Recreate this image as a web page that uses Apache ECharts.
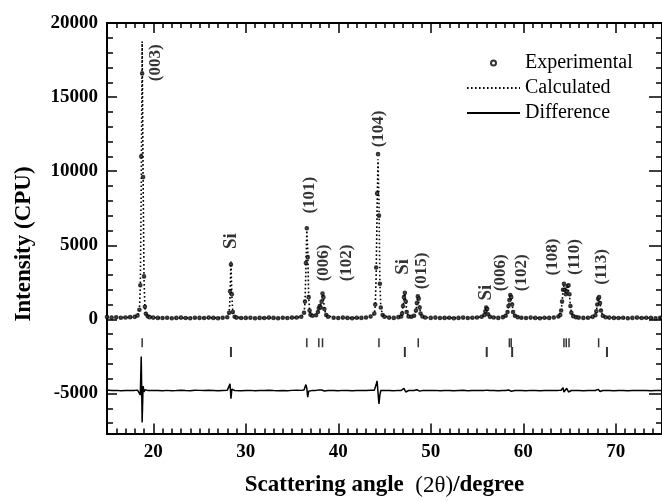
<!DOCTYPE html>
<html>
<head>
<meta charset="utf-8">
<script src="https://cdn.jsdelivr.net/npm/echarts@6/dist/echarts.min.js"></script>
<style>
  html, body { margin: 0; padding: 0; background: #fff; }
  #chart { width: 662px; height: 502px; }
</style>
</head>
<body>
<div id="chart"></div>
<script>
// XRD pattern (2theta in degrees, counts)
const twoTheta = [
  15.0, 15.5, 16.0, 16.5, 17.0, 17.5, 18.0,
  18.3, 18.5, 18.6, 18.7, 18.8, 18.9, 19.0, 19.1, 19.2, 19.4,
  19.6, 20.0, 20.5, 21.0, 21.5, 22.0, 22.5, 23.0, 23.5, 24.0, 24.5, 25.0, 25.5, 26.0, 26.5, 27.0, 27.5, 28.0,
  28.2, 28.3, 28.4, 28.5, 28.6, 28.8,
  29.0, 29.5, 30.0, 30.5, 31.0, 31.5, 32.0, 32.5, 33.0, 33.5, 34.0, 34.5, 35.0, 35.5, 36.0,
  36.3, 36.4, 36.5, 36.6, 36.7, 36.8, 36.9, 37.0, 37.2,
  37.6, 37.8, 37.9, 38.0, 38.1, 38.2, 38.3, 38.4, 38.5, 38.7, 38.9,
  39.5, 40.0, 40.5, 41.0, 41.5, 42.0, 42.5, 43.0, 43.5,
  43.9, 44.0, 44.1, 44.2, 44.3, 44.4, 44.5, 44.6, 44.8, 45.0,
  45.5, 46.0, 46.5,
  46.8, 46.9, 47.0, 47.1, 47.2, 47.3, 47.4, 47.6,
  47.9,
  48.2, 48.4, 48.5, 48.6, 48.7, 48.8, 48.9, 49.1, 49.4,
  50.0, 50.5, 51.0, 51.5, 52.0, 52.5, 53.0, 53.5, 54.0, 54.5, 55.0, 55.5,
  55.8, 55.9, 56.0, 56.1, 56.2, 56.4,
  56.8, 57.3, 57.8,
  58.1, 58.3, 58.4, 58.5, 58.6, 58.7, 58.8, 58.9, 59.1, 59.4,
  59.8, 60.3, 60.8, 61.3, 61.8, 62.3, 62.8, 63.3, 63.8,
  64.0, 64.1, 64.2, 64.3, 64.4, 64.5, 64.6, 64.7, 64.8, 64.9, 65.0, 65.1, 65.2, 65.4, 65.7,
  66.0, 66.5, 67.0, 67.5,
  67.8, 67.9, 68.0, 68.1, 68.2, 68.3, 68.4, 68.6, 68.9,
  69.3, 69.8, 70.3, 70.8, 71.3, 71.8, 72.3, 72.8, 73.3, 73.8, 74.3, 74.8, 75.0
];
const obsCounts = [
  160, 120, 140, 110, 130, 150, 170,
  260, 650, 2300, 11000, 16600, 9600, 2900, 850, 380, 210,
  150, 120, 100, 90, 110, 80, 100, 120, 90, 80, 110, 100, 90, 120, 100, 80, 110, 140,
  450, 1900, 3700, 1700, 500, 180,
  120, 90, 100, 110, 80, 100, 90, 120, 100, 80, 110, 90, 120, 130, 180,
  450, 1200, 3800, 6150, 4200, 1500, 600, 320, 250,
  280, 500, 750, 900, 800, 1200, 1750, 1500, 700, 300, 180,
  110, 90, 120, 100, 80, 110, 100, 130, 190,
  400, 1000, 3500, 8500, 11150, 7000, 2400, 800, 300, 180,
  120, 100, 150,
  200, 400, 900, 1500, 1800, 1200, 500, 200,
  180,
  250, 600, 1100, 1550, 1400, 800, 400, 200, 130,
  100, 120, 90, 100, 110, 80, 100, 120, 90, 110, 130, 180,
  300, 550, 800, 700, 350, 170,
  130, 100, 150,
  250, 500, 900, 1300, 1650, 1500, 1000, 500, 250, 150,
  110, 90, 120, 100, 80, 110, 100, 130, 200,
  300, 600, 1200, 2000, 2400, 2000, 1700, 1900, 2250, 2300, 1700, 900, 450, 220, 150,
  120, 100, 110, 170,
  280, 550, 1000, 1400, 1500, 1100, 600, 250, 140,
  120, 100, 90, 110, 80, 100, 120, 90, 110, 100, 80, 110, 100
];
const calcCounts = [
  130, 125, 125, 125, 130, 135, 150,
  240, 600, 2100, 8700, 18750, 9800, 2800, 800, 360, 200,
  140, 120, 105, 100, 100, 95, 95, 95, 95, 90, 90, 90, 95, 100, 100, 100, 110, 130,
  420, 1500, 3900, 1600, 470, 170,
  110, 100, 95, 95, 95, 95, 95, 95, 95, 100, 100, 105, 115, 125, 170,
  420, 1100, 3300, 6000, 4700, 1600, 620, 330, 240,
  270, 480, 720, 880, 820, 1250, 1700, 1450, 720, 290, 170,
  120, 105, 100, 100, 100, 100, 105, 120, 170,
  380, 900, 3000, 7500, 10800, 8000, 2600, 780, 290, 170,
  120, 110, 140,
  190, 380, 850, 1450, 1750, 1250, 520, 200,
  170,
  240, 580, 1050, 1500, 1450, 820, 380, 200, 130,
  115, 110, 105, 100, 100, 100, 100, 100, 105, 110, 125, 170,
  280, 520, 780, 720, 360, 160,
  130, 115, 140,
  240, 480, 850, 1250, 1600, 1550, 1050, 520, 260, 150,
  120, 110, 105, 100, 100, 100, 110, 130, 190,
  290, 570, 1150, 1900, 2300, 2050, 1750, 1950, 2200, 2200, 1650, 900, 460, 230, 150,
  130, 110, 115, 160,
  270, 520, 950, 1350, 1450, 1150, 620, 260, 140,
  115, 110, 105, 100, 100, 100, 100, 100, 100, 100, 100, 100, 100
];
// difference curve, drawn offset by about -4800
const diffCounts = [
  -4770, -4800, -4790, -4810, -4800, -4790, -4790,
  -4780, -4850, -5100, -2500, -6950, -4500, -4900, -4750, -4800, -4790,
  -4790, -4800, -4800, -4810, -4790, -4815, -4800, -4780, -4805, -4810, -4780, -4790, -4805, -4780, -4800, -4820, -4800, -4790,
  -4750, -4350, -5350, -4700, -4780, -4800,
  -4795, -4810, -4800, -4790, -4810, -4800, -4805, -4780, -4800, -4815, -4795, -4810, -4790, -4780, -4790,
  -4770, -4700, -4400, -4650, -5250, -4850, -4800, -4800, -4790,
  -4790, -4780, -4760, -4730, -4800, -4760, -4700, -4750, -4830, -4800, -4800,
  -4800, -4810, -4790, -4800, -4815, -4795, -4800, -4790, -4785,
  -4780, -4700, -4400, -4150, -4950, -5700, -5100, -4800, -4800, -4800,
  -4800, -4810, -4790,
  -4800, -4790, -4750, -4650, -4560, -4900, -4830, -4800,
  -4800,
  -4800, -4780, -4750, -4700, -4800, -4840, -4800, -4800, -4800,
  -4805, -4790, -4810, -4800, -4795, -4815, -4800, -4785, -4810, -4795, -4790, -4790,
  -4790, -4760, -4700, -4780, -4810, -4800,
  -4800, -4810, -4795,
  -4800, -4790, -4760, -4700, -4650, -4850, -4900, -4820, -4800, -4800,
  -4800, -4810, -4790, -4800, -4815, -4795, -4800, -4790, -4790,
  -4800, -4780, -4700, -4600, -4900, -5000, -4780, -4650, -4600, -4900, -5000, -4800, -4800, -4800, -4800,
  -4800, -4810, -4795, -4800,
  -4800, -4790, -4760, -4720, -4850, -4870, -4820, -4800, -4800,
  -4800, -4810, -4795, -4800, -4815, -4800, -4790, -4805, -4800, -4810, -4795, -4800, -4800
];

// Bragg reflection positions (2theta)
const phaseMarks = [18.8, 36.6, 37.9, 38.3, 44.4, 48.65, 58.5, 58.7, 64.4, 64.65, 64.95, 68.15];
const siMarks = [28.4, 47.2, 56.05, 58.8, 69.05];
const phaseMarkLevel = -1580;
const siMarkLevel = -2200;

// peak annotations and where they sit (2theta, counts)
const peakLabels = ['(003)', 'Si', '(101)', '(006)', '(102)', '(104)', 'Si', '(015)', 'Si', '(006)', '(102)', '(108)', '(110)', '(113)'];
const labelAngle = [20.3, 28.4, 36.95, 38.37, 40.85, 44.36, 46.99, 49.01, 55.93, 57.52, 59.82, 63.19, 65.5, 68.51];
const labelCounts = [17320, 5280, 8380, 3810, 3810, 12850, 3540, 3270, 1810, 3140, 3140, 4210, 4210, 3540];

const xMajor = [20, 30, 40, 50, 60, 70];
const yMajor = [-5000, 0, 5000, 10000, 15000, 20000];
const xMinor = [];
for (let v = 16; v <= 74; v++) xMinor.push(v);
const yMinor = [];
for (let v = -7000; v <= 19000; v += 1000) yMinor.push(v);

const serif = 'Liberation Serif';
const black = '#000';

function xAxisDef(position, ticks, len, withLabels) {
  return {
    type: 'value', min: 15, max: 75, position: position,
    axisLine: { show: true, onZero: false, lineStyle: { color: black, width: 2 } },
    axisTick: { show: true, inside: true, length: len, customValues: ticks, lineStyle: { color: black, width: 1.5 } },
    axisLabel: withLabels ? {
      show: true, customValues: xMajor, margin: 9, formatter: v => String(v),
      fontFamily: serif, fontWeight: 'bold', fontSize: 19, color: black
    } : { show: false },
    splitLine: { show: false }
  };
}
function yAxisDef(position, ticks, len, withLabels) {
  return {
    type: 'value', min: -7700, max: 20000, position: position,
    axisLine: { show: true, onZero: false, lineStyle: { color: black, width: 2 } },
    axisTick: { show: true, inside: true, length: len, customValues: ticks, lineStyle: { color: black, width: 1.5 } },
    axisLabel: withLabels ? {
      show: true, customValues: yMajor, margin: 9, formatter: v => String(v),
      fontFamily: serif, fontWeight: 'bold', fontSize: 19, color: black
    } : { show: false },
    splitLine: { show: false }
  };
}

const xMain = xAxisDef('bottom', xMajor, 10, true);
xMain.name = '{b|Scattering angle  }{r|(2\u03b8)}{b|/degree}';
xMain.nameLocation = 'middle';
xMain.nameGap = 40;
xMain.nameTextStyle = {
  rich: {
    b: { fontFamily: serif, fontWeight: 'bold', fontSize: 23, color: black, lineHeight: 24 },
    r: { fontFamily: serif, fontWeight: 'normal', fontSize: 23, color: black, lineHeight: 24 }
  }
};

const chart = echarts.init(document.getElementById('chart'));
chart.setOption({
  animation: false,
  backgroundColor: '#fff',
  grid: { left: 107, right: -9, top: 23, bottom: 65, containLabel: false },
  xAxis: [
    xMain,
    xAxisDef('bottom', xMinor, 5, false),
    xAxisDef('top', xMajor, 10, false),
    xAxisDef('top', xMinor, 5, false)
  ],
  yAxis: [
    yAxisDef('left', yMajor, 10, true),
    yAxisDef('left', yMinor, 6, false),
    yAxisDef('right', yMajor, 13, false),
    yAxisDef('right', yMinor, 6, false)
  ],
  legend: {
    orient: 'vertical', left: 466, top: 53, padding: 0,
    itemGap: 5, itemWidth: 53, itemHeight: 5,
    textStyle: { fontFamily: serif, fontSize: 20, color: black, lineHeight: 20 },
    data: [
      { name: 'Experimental', itemStyle: { borderWidth: 0.8 } },
      { name: 'Calculated', itemStyle: { opacity: 0 } },
      { name: 'Difference', itemStyle: { opacity: 0 } }
    ]
  },
  graphic: [{
    type: 'text', x: 24, y: 244, rotation: Math.PI / 2,
    style: {
      text: 'Intensity (CPU)', fill: black,
      font: 'bold 23px "Liberation Serif"',
      align: 'center', verticalAlign: 'middle'
    }
  }],
  series: [
    {
      name: 'Calculated', type: 'line', symbol: 'none',
      data: twoTheta.map((t, i) => [t, calcCounts[i]]),
      lineStyle: { color: black, width: 1.6, type: [1.6, 2.4] },
      itemStyle: { color: black },
      z: 3
    },
    {
      name: 'Experimental', type: 'scatter', symbol: 'emptyCircle', symbolSize: 2.6,
      data: twoTheta.map((t, i) => [t, obsCounts[i]]),
      itemStyle: { color: black, borderWidth: 0.7 },
      z: 4
    },
    {
      name: 'Difference', type: 'line', symbol: 'none',
      data: twoTheta.map((t, i) => [t, diffCounts[i]]),
      lineStyle: { color: black, width: 1.5 },
      itemStyle: { color: black },
      z: 3
    },
    {
      name: 'phase', type: 'scatter', silent: true, symbol: 'rect', symbolSize: [1.5, 9],
      data: phaseMarks.map(t => [t, phaseMarkLevel]),
      itemStyle: { color: black }
    },
    {
      name: 'Si', type: 'scatter', silent: true, symbol: 'rect', symbolSize: [2, 10],
      data: siMarks.map(t => [t, siMarkLevel]),
      itemStyle: { color: black }
    },
    {
      name: 'labels', type: 'scatter', silent: true, symbolSize: 1,
      itemStyle: { color: 'rgba(0,0,0,0)' },
      data: peakLabels.map((t, i) => ({
        name: t, value: [labelAngle[i], labelCounts[i]],
        label: t === 'Si' ? { fontSize: 19 } : undefined
      })),
      label: {
        show: true, position: 'inside', rotate: 90, formatter: '{b}',
        fontFamily: serif, fontWeight: 'bold', fontSize: 17, color: black
      },
      z: 5
    }
  ]
});
</script>
</body>
</html>
